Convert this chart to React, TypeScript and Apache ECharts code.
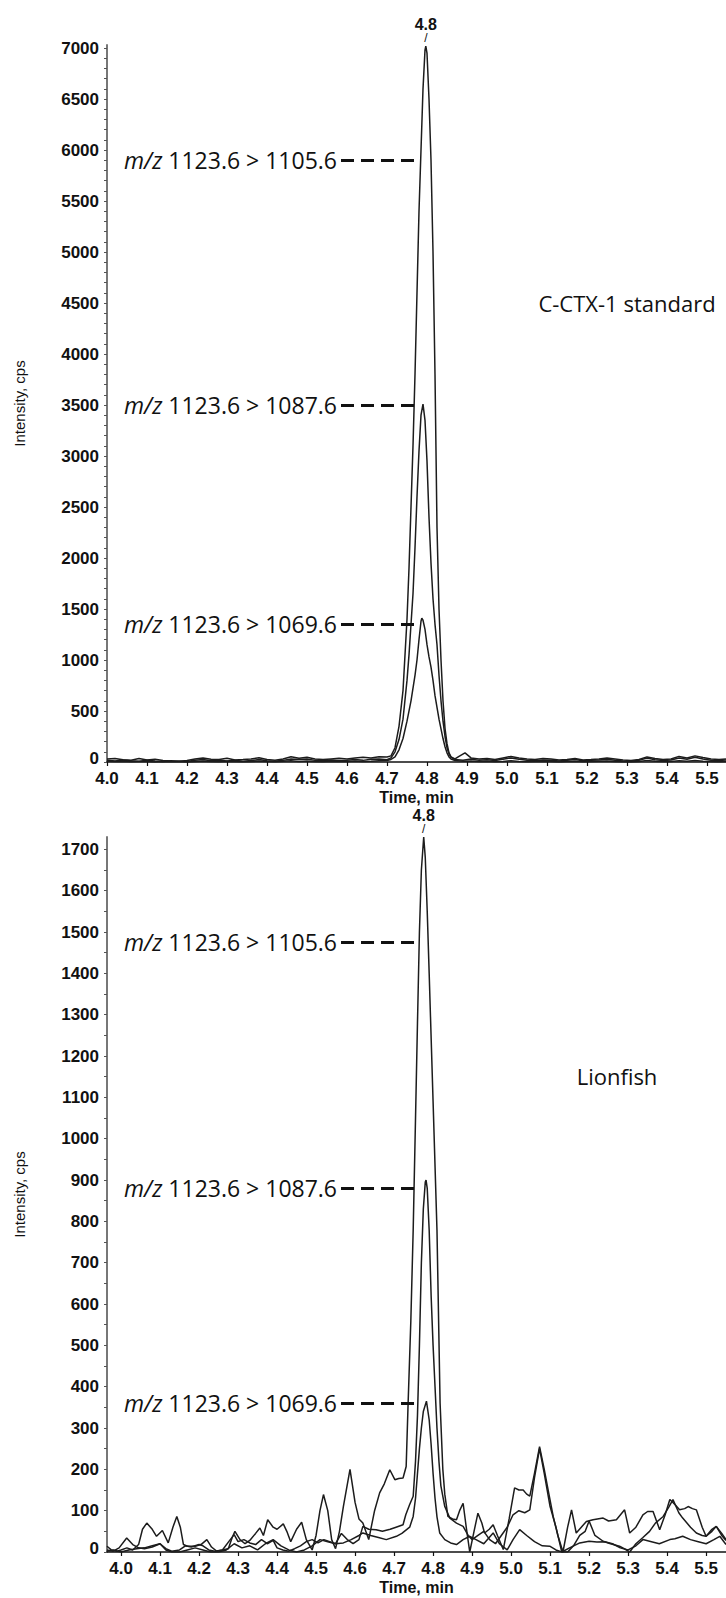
import React, { useEffect, useRef } from 'react';
import * as echarts from 'echarts';

// ---------- tick values ----------
const xTickValues = [4.0, 4.1, 4.2, 4.3, 4.4, 4.5, 4.6, 4.7, 4.8, 4.9, 5.0, 5.1, 5.2, 5.3, 5.4, 5.5];
const stdYTickValues = [0, 500, 1000, 1500, 2000, 2500, 3000, 3500, 4000, 4500, 5000, 5500, 6000, 6500, 7000];
const stdYMinorTicks = [0, 100, 200, 300, 400, 500, 600, 700, 800, 900, 1000, 1100, 1200, 1300, 1400, 1500, 1600, 1700, 1800, 1900, 2000, 2100, 2200, 2300, 2400, 2500, 2600, 2700, 2800, 2900, 3000, 3100, 3200, 3300, 3400, 3500, 3600, 3700, 3800, 3900, 4000, 4100, 4200, 4300, 4400, 4500, 4600, 4700, 4800, 4900, 5000, 5100, 5200, 5300, 5400, 5500, 5600, 5700, 5800, 5900, 6000, 6100, 6200, 6300, 6400, 6500, 6600, 6700, 6800, 6900, 7000];
const lionYTickValues = [0, 100, 200, 300, 400, 500, 600, 700, 800, 900, 1000, 1100, 1200, 1300, 1400, 1500, 1600, 1700];
const lionYMinorTicks = [0, 50, 100, 150, 200, 250, 300, 350, 400, 450, 500, 550, 600, 650, 700, 750, 800, 850, 900, 950, 1000, 1050, 1100, 1150, 1200, 1250, 1300, 1350, 1400, 1450, 1500, 1550, 1600, 1650, 1700];

// ---------- C-CTX-1 standard traces [time, cps] ----------
const std1105 = [[4.00,30],[4.02,35],[4.04,22],[4.06,18],[4.08,34],[4.10,20],[4.12,28],[4.14,14],[4.16,10],[4.18,8],[4.20,14],[4.22,30],[4.24,40],[4.26,28],[4.28,24],[4.30,36],[4.32,20],[4.34,24],[4.36,30],[4.38,42],[4.40,24],[4.42,18],[4.44,30],[4.46,52],[4.48,36],[4.50,46],[4.52,30],[4.54,24],[4.56,30],[4.58,36],[4.60,30],[4.62,40],[4.64,46],[4.66,40],[4.68,52],[4.70,50],[4.71,60],[4.72,140],[4.73,350],[4.74,700],[4.75,1400],[4.755,1900],[4.76,2500],[4.765,3100],[4.77,3800],[4.775,4600],[4.78,5400],[4.785,6000],[4.79,6600],[4.795,6980],[4.797,7020],[4.80,6950],[4.805,6500],[4.81,5900],[4.815,5000],[4.82,3800],[4.825,2300],[4.83,1500],[4.835,1000],[4.84,600],[4.845,330],[4.85,180],[4.855,90],[4.86,50],[4.87,30],[4.88,55],[4.895,90],[4.91,40],[4.93,30],[4.95,34],[4.97,24],[4.99,40],[5.01,55],[5.03,40],[5.05,30],[5.07,24],[5.09,34],[5.11,30],[5.13,20],[5.15,24],[5.17,34],[5.19,20],[5.21,24],[5.23,30],[5.25,40],[5.27,30],[5.29,20],[5.31,14],[5.33,24],[5.35,50],[5.37,34],[5.39,24],[5.41,30],[5.43,55],[5.45,40],[5.47,60],[5.49,44],[5.51,30],[5.53,24],[5.5475,30]];
const std1087 = [[4.00,18],[4.02,10],[4.04,20],[4.06,12],[4.08,8],[4.10,16],[4.12,10],[4.14,6],[4.16,12],[4.18,8],[4.20,4],[4.22,18],[4.24,24],[4.26,12],[4.28,16],[4.30,10],[4.32,18],[4.34,8],[4.36,14],[4.38,24],[4.40,12],[4.42,8],[4.44,16],[4.46,30],[4.48,24],[4.50,30],[4.52,16],[4.54,12],[4.56,20],[4.58,14],[4.60,18],[4.62,24],[4.64,16],[4.66,28],[4.68,30],[4.70,22],[4.71,40],[4.72,100],[4.73,220],[4.74,420],[4.75,800],[4.755,1050],[4.76,1350],[4.765,1650],[4.77,2100],[4.775,2600],[4.78,3050],[4.785,3400],[4.79,3510],[4.795,3350],[4.80,2950],[4.805,2400],[4.81,1950],[4.815,1600],[4.82,1350],[4.825,1150],[4.83,850],[4.835,600],[4.84,400],[4.845,250],[4.85,140],[4.855,80],[4.86,45],[4.87,25],[4.89,18],[4.91,30],[4.93,16],[4.95,22],[4.97,14],[4.99,28],[5.01,40],[5.03,26],[5.05,18],[5.07,12],[5.09,20],[5.11,16],[5.13,10],[5.15,18],[5.17,24],[5.19,12],[5.21,16],[5.23,20],[5.25,28],[5.27,18],[5.29,10],[5.31,8],[5.33,16],[5.35,40],[5.37,22],[5.39,14],[5.41,20],[5.43,40],[5.45,28],[5.47,46],[5.49,30],[5.51,18],[5.53,14],[5.5475,20]];
const std1069 = [[4.00,10],[4.02,4],[4.04,8],[4.06,2],[4.08,6],[4.10,4],[4.12,0],[4.14,6],[4.16,2],[4.18,4],[4.20,0],[4.22,6],[4.24,10],[4.26,4],[4.28,2],[4.30,8],[4.32,4],[4.34,2],[4.36,6],[4.38,10],[4.40,4],[4.42,2],[4.44,8],[4.46,12],[4.48,6],[4.50,10],[4.52,4],[4.54,2],[4.56,8],[4.58,4],[4.60,6],[4.62,10],[4.64,6],[4.66,8],[4.68,12],[4.70,15],[4.71,25],[4.72,50],[4.73,120],[4.74,230],[4.75,400],[4.76,600],[4.77,850],[4.775,1000],[4.78,1200],[4.785,1380],[4.787,1410],[4.79,1390],[4.795,1300],[4.80,1150],[4.805,1030],[4.81,930],[4.815,800],[4.82,650],[4.83,420],[4.84,230],[4.845,150],[4.85,90],[4.855,50],[4.86,30],[4.87,15],[4.89,8],[4.91,10],[4.93,4],[4.95,8],[4.97,2],[4.99,6],[5.01,12],[5.03,6],[5.05,2],[5.07,4],[5.09,8],[5.11,4],[5.13,0],[5.15,6],[5.17,8],[5.19,2],[5.21,4],[5.23,8],[5.25,10],[5.27,6],[5.29,2],[5.31,0],[5.33,6],[5.35,14],[5.37,8],[5.39,4],[5.41,6],[5.43,12],[5.45,8],[5.47,14],[5.49,8],[5.51,4],[5.53,2],[5.5475,6]];

// ---------- Lionfish traces [time, cps] ----------
const lion1105 = [[3.964,14],[3.975,5],[3.99,2],[4.0,5],[4.015,10],[4.03,5],[4.045,18],[4.055,55],[4.066,70],[4.08,55],[4.091,38],[4.106,52],[4.121,22],[4.133,60],[4.143,86],[4.152,60],[4.16,18],[4.17,14],[4.19,14],[4.205,18],[4.22,30],[4.232,12],[4.245,2],[4.26,5],[4.275,8],[4.285,35],[4.292,50],[4.305,30],[4.318,20],[4.33,28],[4.345,45],[4.356,58],[4.365,40],[4.376,78],[4.39,60],[4.40,55],[4.416,68],[4.425,50],[4.435,25],[4.45,55],[4.463,72],[4.475,30],[4.49,5],[4.50,40],[4.51,100],[4.519,139],[4.53,100],[4.54,30],[4.55,8],[4.56,50],[4.57,110],[4.587,200],[4.60,120],[4.61,80],[4.62,70],[4.635,30],[4.65,100],[4.663,143],[4.675,165],[4.689,199],[4.702,175],[4.712,178],[4.723,179],[4.731,207],[4.736,360],[4.743,560],[4.749,779],[4.755,1050],[4.76,1280],[4.765,1500],[4.77,1650],[4.776,1730],[4.78,1680],[4.785,1550],[4.79,1400],[4.80,1090],[4.81,779],[4.818,360],[4.825,200],[4.83,140],[4.838,86],[4.85,80],[4.86,78],[4.868,100],[4.877,118],[4.885,60],[4.894,0],[4.905,50],[4.915,94],[4.925,70],[4.932,46],[4.944,55],[4.954,66],[4.965,40],[4.98,6],[4.995,80],[5.009,155],[5.02,150],[5.031,150],[5.04,140],[5.048,135],[5.06,190],[5.073,255],[5.085,200],[5.097,140],[5.108,86],[5.12,40],[5.133,0],[5.145,60],[5.155,102],[5.167,46],[5.18,60],[5.193,74],[5.21,78],[5.236,82],[5.25,75],[5.27,78],[5.291,102],[5.304,46],[5.32,60],[5.338,90],[5.35,98],[5.364,98],[5.381,54],[5.395,90],[5.407,127],[5.42,115],[5.432,102],[5.445,105],[5.454,110],[5.465,105],[5.475,102],[5.49,60],[5.50,38],[5.515,50],[5.526,62],[5.54,45],[5.551,30]];
const lion1087 = [[3.964,5],[3.98,2],[3.995,10],[4.0145,34],[4.03,18],[4.045,10],[4.06,8],[4.08,12],[4.10,20],[4.115,8],[4.13,2],[4.15,5],[4.165,15],[4.18,12],[4.20,18],[4.21,15],[4.225,5],[4.24,2],[4.26,5],[4.28,30],[4.29,42],[4.30,25],[4.315,30],[4.33,22],[4.345,18],[4.36,30],[4.375,20],[4.39,28],[4.40,10],[4.415,5],[4.43,2],[4.445,8],[4.46,15],[4.475,25],[4.49,30],[4.505,22],[4.52,30],[4.535,25],[4.55,20],[4.565,45],[4.58,30],[4.595,20],[4.61,30],[4.62,62],[4.635,55],[4.654,54],[4.67,50],[4.69,55],[4.705,60],[4.723,66],[4.73,90],[4.74,115],[4.749,135],[4.755,220],[4.76,330],[4.765,500],[4.77,700],[4.775,830],[4.78,895],[4.782,900],[4.785,880],[4.79,779],[4.795,620],[4.80,500],[4.805,400],[4.81,300],[4.815,220],[4.82,160],[4.83,110],[4.843,82],[4.86,70],[4.877,62],[4.89,40],[4.90,30],[4.915,40],[4.93,50],[4.945,30],[4.96,20],[4.975,40],[4.99,60],[5.005,90],[5.02,100],[5.035,95],[5.048,102],[5.06,180],[5.073,250],[5.085,190],[5.10,110],[5.115,60],[5.13,0],[5.145,0],[5.16,15],[5.176,40],[5.19,50],[5.20,75],[5.215,40],[5.236,26],[5.255,20],[5.278,14],[5.29,8],[5.304,0],[5.32,20],[5.338,35],[5.355,50],[5.37,70],[5.39,86],[5.405,110],[5.415,127],[5.43,95],[5.44,82],[5.46,60],[5.475,46],[5.49,40],[5.50,38],[5.515,55],[5.526,62],[5.54,40],[5.551,28]];
const lion1069 = [[3.964,2],[3.98,5],[4.0,0],[4.02,5],[4.04,8],[4.06,10],[4.08,15],[4.10,20],[4.115,5],[4.13,0],[4.15,0],[4.17,5],[4.19,10],[4.21,5],[4.23,0],[4.25,0],[4.27,5],[4.29,20],[4.31,10],[4.33,15],[4.35,5],[4.37,20],[4.39,30],[4.41,15],[4.43,5],[4.45,0],[4.47,5],[4.49,15],[4.51,30],[4.53,25],[4.55,20],[4.57,22],[4.59,30],[4.61,40],[4.62,46],[4.64,40],[4.66,35],[4.68,30],[4.706,38],[4.72,45],[4.74,60],[4.749,86],[4.755,130],[4.76,190],[4.765,250],[4.77,300],[4.775,340],[4.783,365],[4.79,320],[4.795,260],[4.80,190],[4.805,130],[4.81,85],[4.817,46],[4.83,30],[4.845,22],[4.86,18],[4.877,30],[4.894,38],[4.91,30],[4.93,20],[4.954,46],[4.97,20],[4.99,5],[5.005,30],[5.022,54],[5.04,40],[5.06,25],[5.08,15],[5.099,14],[5.115,5],[5.13,0],[5.15,10],[5.176,22],[5.20,26],[5.22,24],[5.24,25],[5.26,20],[5.28,10],[5.30,5],[5.32,15],[5.338,30],[5.36,25],[5.38,20],[5.407,30],[5.42,32],[5.44,38],[5.46,30],[5.48,25],[5.50,20],[5.52,30],[5.535,38],[5.551,18]];

// ---------- annotations (product ion, level, dashed line from/to time) ----------
const stdAnnotations = [
  { product: '1105.6', level: 5900, from: 4.585, to: 4.783 },
  { product: '1087.6', level: 3500, from: 4.585, to: 4.782 },
  { product: '1069.6', level: 1350, from: 4.585, to: 4.778 },
];
const lionAnnotations = [
  { product: '1105.6', level: 1475, from: 4.564, to: 4.757 },
  { product: '1087.6', level: 880, from: 4.564, to: 4.768 },
  { product: '1069.6', level: 360, from: 4.564, to: 4.762 },
];
const stdApex = [4.797, 7020];
const lionApex = [4.776, 1730];
const apexLabel = '4.8';

const TICK_FONT = '"Liberation Sans", Arial, sans-serif';
const ANN_FONT = '"Open Sans", "Noto Sans", sans-serif';
const TRACE_COLOR = '#1c1c1c';

function annotationMarkLine(anns: { product: string; level: number; from: number; to: number }[]) {
  return {
    silent: true,
    symbol: ['none', 'none'],
    animation: false,
    lineStyle: { color: '#111', width: 3, type: [13, 7], opacity: 1 },
    emphasis: { disabled: true },
    label: {
      show: true,
      position: 'start',
      distance: 4,
      color: '#111',
      fontFamily: ANN_FONT,
      fontSize: 23,
      rich: {
        i: { fontStyle: 'italic', fontFamily: ANN_FONT, fontSize: 23, color: '#111' },
      },
    },
    data: anns.map((a) => {
      const fmt = `{i|m/z} 1123.6 > ${a.product}`;
      return [
        { coord: [a.from, a.level], label: { formatter: fmt } },
        { coord: [a.to, a.level], label: { formatter: fmt } },
      ];
    }),
  };
}

function apexMarkPoint(coord: number[]) {
  return {
    silent: true,
    symbol: 'circle',
    symbolSize: 2,
    itemStyle: { color: 'rgba(0,0,0,0)' },
    label: {
      show: true,
      position: 'top',
      distance: 1,
      formatter: `{a|${apexLabel}}\n{b|/}`,
      rich: {
        a: { fontFamily: TICK_FONT, fontWeight: 'bold', fontSize: 16, lineHeight: 16, color: '#111', align: 'center' },
        b: { fontFamily: TICK_FONT, fontSize: 12, lineHeight: 12, color: '#111', align: 'center' },
      },
    },
    data: [{ coord }],
  };
}

function trace(data: number[][], idx: number, extra: any = {}) {
  return {
    type: 'line',
    xAxisIndex: idx,
    yAxisIndex: idx,
    data,
    symbol: 'none',
    showSymbol: false,
    silent: true,
    lineStyle: { color: TRACE_COLOR, width: 1.5 },
    ...extra,
  };
}

function xAxisDef(idx: number, min: number, max: number) {
  return {
    type: 'value',
    gridIndex: idx,
    min,
    max,
    name: 'Time, min',
    nameLocation: 'middle',
    nameGap: 27,
    nameTextStyle: { fontFamily: TICK_FONT, fontWeight: 'bold', fontSize: 16, color: '#111' },
    axisLine: { show: true, onZero: false, lineStyle: { color: '#111', width: 1.5 } },
    axisTick: { show: true, length: 4, customValues: xTickValues, lineStyle: { color: '#111', width: 1.2 } },
    axisLabel: {
      show: true,
      customValues: xTickValues,
      margin: 8,
      formatter: (v: number) => v.toFixed(1),
      fontFamily: TICK_FONT,
      fontWeight: 'bold',
      fontSize: 17,
      color: '#111',
    },
    splitLine: { show: false },
  };
}

function yAxisDef(idx: number, max: number, labels: number[], ticks: number[]) {
  return {
    type: 'value',
    gridIndex: idx,
    min: 0,
    max,
    name: 'Intensity, cps',
    nameLocation: 'middle',
    nameGap: 80,
    nameTextStyle: { fontFamily: TICK_FONT, fontSize: 15, color: '#111' },
    axisLine: { show: true, lineStyle: { color: '#777', width: 2 } },
    axisTick: { show: true, length: 3, customValues: ticks, lineStyle: { color: '#555', width: 1 } },
    axisLabel: {
      show: true,
      customValues: labels,
      margin: 8,
      formatter: (v: number) => (v === 0 ? '{z|0}' : String(Math.round(v))),
      fontFamily: TICK_FONT,
      fontWeight: 'bold',
      fontSize: 17,
      color: '#111',
      rich: {
        z: { fontFamily: TICK_FONT, fontWeight: 'bold', fontSize: 17, color: '#111', padding: [0, 0, 7, 0] },
      },
    },
    splitLine: { show: false },
  };
}

export default function App() {
  const ref = useRef<HTMLDivElement>(null);
  useEffect(() => {
    if (!ref.current) return;
    const chart = echarts.init(ref.current, null, { renderer: 'svg' });
    chart.setOption({
      animation: false,
      backgroundColor: '#ffffff',
      grid: [
        { left: 107, top: 45, width: 619, height: 717, containLabel: false },
        { left: 107, top: 837, width: 619, height: 715, containLabel: false },
      ],
      xAxis: [xAxisDef(0, 4.0, 5.5475), xAxisDef(1, 3.964, 5.551)],
      yAxis: [
        yAxisDef(0, 7030, stdYTickValues, stdYMinorTicks),
        yAxisDef(1, 1730, lionYTickValues, lionYMinorTicks),
      ],
      series: [
        trace(std1069, 0),
        trace(std1087, 0),
        trace(std1105, 0, { markLine: annotationMarkLine(stdAnnotations), markPoint: apexMarkPoint(stdApex) }),
        trace(lion1069, 1),
        trace(lion1087, 1),
        trace(lion1105, 1, { markLine: annotationMarkLine(lionAnnotations), markPoint: apexMarkPoint(lionApex) }),
      ],
      graphic: [
        {
          type: 'text',
          x: 627,
          y: 303,
          silent: true,
          style: { text: 'C-CTX-1 standard', font: `22px ${ANN_FONT}`, fill: '#111', align: 'center', verticalAlign: 'middle' },
        },
        {
          type: 'text',
          x: 617,
          y: 1076,
          silent: true,
          style: { text: 'Lionfish', font: `22px ${ANN_FONT}`, fill: '#111', align: 'center', verticalAlign: 'middle' },
        },
      ],
    });
    return () => chart.dispose();
  }, []);
  return <div ref={ref} style={{ position: 'absolute', left: 0, top: 0, width: 726, height: 1598 }} />;
}
